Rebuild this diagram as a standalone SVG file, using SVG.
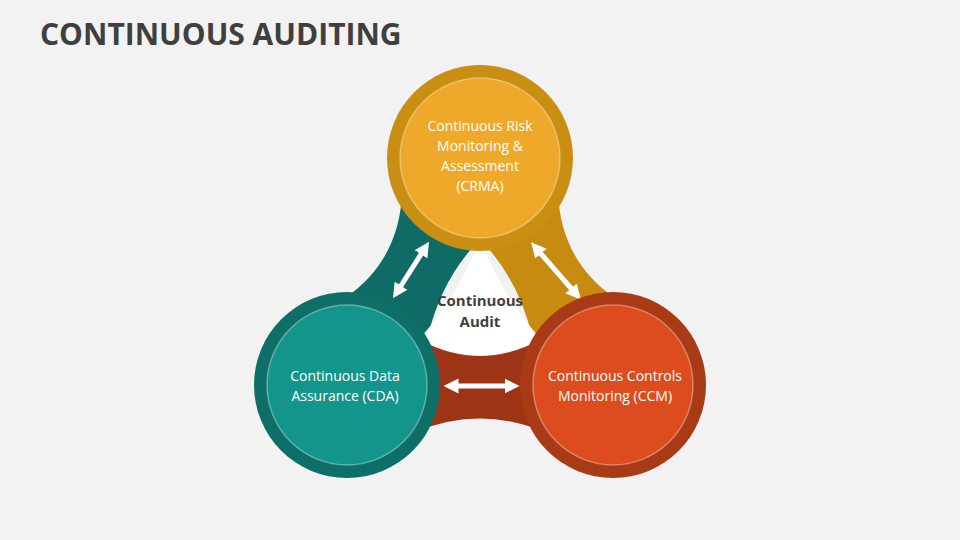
<svg xmlns="http://www.w3.org/2000/svg" width="960" height="540" viewBox="0 0 960 540">
<defs>
<style>
.t{font-family:"Open Sans","Liberation Sans",sans-serif;font-size:14px;fill:#fff;text-anchor:middle}
.c{font-family:"Open Sans","Liberation Sans",sans-serif;font-size:15px;font-weight:bold;fill:#3f3f3f;text-anchor:middle}
.ar{stroke:#fff;stroke-width:5;marker-start:url(#ah);marker-end:url(#ah)}
.in{stroke:#fff;stroke-opacity:.35;stroke-width:1.5}
</style>
<marker id="ah" viewBox="0 0 10 10" refX="5" refY="5" markerWidth="3" markerHeight="3.4" orient="auto-start-reverse"><path d="M0,0 L10,5 L0,10 Z" fill="#fff"/></marker>
</defs>
<rect width="960" height="540" fill="#f2f2f2"/>
<text x="40" y="45" font-family="'Open Sans','Liberation Sans',sans-serif" font-size="30" font-weight="bold" fill="#3f3f3f">CONTINUOUS AUDITING</text>
<g id="connectors">
<path d="M402,195 Q398,262 345,298 L428,336 Q440,285 472,248 Z" fill="#0f6b66"/>
<path d="M558,195 Q562,262 615,298 L532,336 Q520,285 488,248 Z" fill="#c68b10"/>
<path d="M420,340 Q480,372 540,340 L545,432 Q480,405 415,432 Z" fill="#9e3416"/>
<path d="M480,240 Q505,300 540,338 Q480,372 420,338 Q455,300 480,240 Z" fill="#fff"/>
<line class="ar" x1="397" y1="292" x2="425" y2="248"/>
<line class="ar" x1="536" y1="248" x2="576" y2="294"/>
<line class="ar" x1="451" y1="386" x2="512" y2="386"/>
</g>
<g id="center"><text class="c" x="480" y="306">Continuous</text><text class="c" x="480" y="327">Audit</text></g>
<g id="crma">
<circle cx="480" cy="158" r="93" fill="#c98e12"/>
<circle cx="480" cy="158" r="80" fill="#efa92a" class="in"/>
<text class="t" x="480" y="131">Continuous Risk</text>
<text class="t" x="480" y="151">Monitoring &amp;</text>
<text class="t" x="480" y="171">Assessment</text>
<text class="t" x="480" y="191">(CRMA)</text>
</g>
<g id="cda">
<circle cx="347" cy="385" r="93" fill="#0e6e68"/>
<circle cx="347" cy="385" r="80" fill="#13958b" class="in"/>
<text class="t" x="345" y="381">Continuous Data</text>
<text class="t" x="345" y="401">Assurance (CDA)</text>
</g>
<g id="ccm">
<circle cx="613" cy="385" r="93" fill="#a83a16"/>
<circle cx="613" cy="385" r="80" fill="#dc4c1e" class="in"/>
<text class="t" x="615" y="381">Continuous Controls</text>
<text class="t" x="615" y="401">Monitoring (CCM)</text>
</g>
</svg>
